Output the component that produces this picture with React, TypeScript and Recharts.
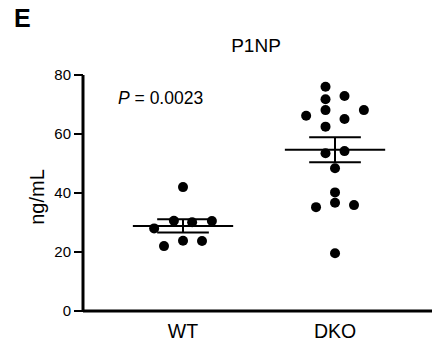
import React from 'react';
import { ComposedChart, Scatter, XAxis, YAxis, ReferenceLine } from 'recharts';

const groups = ['WT', 'DKO'];
const wtValues = [42, 30.6, 30.1, 30.5, 28.0, 22.0, 23.8, 23.7];
const wtJitter = [0, -0.06, 0.06, 0.19, -0.19, -0.125, 0, 0.125];
const dkoValues = [76, 72.9, 71.8, 68.1, 68.1, 66.2, 65.1, 62.5, 53.5, 54.2, 48.4, 40.2, 36.7, 35.2, 35.9, 19.6];
const dkoJitter = [-0.0625, 0.0625, -0.0625, -0.0625, 0.19, -0.19, 0.0625, -0.0625, -0.0625, 0.0625, 0, 0, 0, -0.125, 0.125, 0];
const yTicks = [0, 20, 40, 60, 80];
const title = 'P1NP';
const pValue = '0.0023';

const font = '"Liberation Sans", Arial, sans-serif';

const toPoints = (vals: number[], jit: number[], pos: number) =>
  vals.map((v, i) => ({ x: pos + jit[i], y: v }));

const stats = (vals: number[]) => {
  const n = vals.length;
  const mean = vals.reduce((a, b) => a + b, 0) / n;
  const sd = Math.sqrt(vals.reduce((a, b) => a + (b - mean) ** 2, 0) / (n - 1));
  return { mean, sem: sd / Math.sqrt(n) };
};

const Dot = (props: any) => <circle cx={props.cx} cy={props.cy} r={5} fill="#000" />;

// mean line + SEM whiskers for one group
const MeanSem = (pos: number, vals: number[]) => {
  const { mean, sem } = stats(vals);
  const line = { stroke: '#000', strokeWidth: 2, ifOverflow: 'visible' as const };
  return [
    <ReferenceLine key={`m${pos}`} segment={[{ x: pos - 0.33, y: mean }, { x: pos + 0.33, y: mean }]} {...line} />,
    <ReferenceLine key={`h${pos}`} segment={[{ x: pos - 0.17, y: mean + sem }, { x: pos + 0.17, y: mean + sem }]} {...line} />,
    <ReferenceLine key={`l${pos}`} segment={[{ x: pos - 0.17, y: mean - sem }, { x: pos + 0.17, y: mean - sem }]} {...line} />,
    <ReferenceLine key={`v${pos}`} segment={[{ x: pos, y: mean - sem }, { x: pos, y: mean + sem }]} {...line} />,
  ];
};

export default function App() {
  return (
    <div style={{ position: 'absolute', left: 0, top: 0, width: 434, height: 343, background: '#fff', fontFamily: font }}>
      <div style={{ position: 'absolute', left: 14, top: 4, fontSize: 25, fontWeight: 'bold' }}>E</div>
      <div style={{ position: 'absolute', left: 0, width: 512, top: 35, textAlign: 'center', fontSize: 19 }}>{title}</div>
      <div style={{ position: 'absolute', left: 118, top: 88, fontSize: 17.5, whiteSpace: 'nowrap' }}>
        <i>P</i> = {pValue}
      </div>
      <div
        style={{
          position: 'absolute', left: 37, top: 197, fontSize: 20, whiteSpace: 'nowrap',
          transform: 'translate(-50%, -50%) rotate(-90deg)',
        }}
      >
        ng/mL
      </div>
      <ComposedChart width={434} height={343} margin={{ top: 75, right: 2, bottom: 0, left: 0 }}>
        <XAxis
          type="number"
          dataKey="x"
          domain={[0.342, 2.638]}
          ticks={[1, 2]}
          tickFormatter={(v: number) => groups[v - 1]}
          tickLine={false}
          axisLine={{ stroke: '#000', strokeWidth: 3 }}
          height={32}
          tickSize={6}
          tickMargin={7}
          tick={{ fill: '#000', fontSize: 19.5, fontFamily: font }}
        />
        <YAxis
          type="number"
          dataKey="y"
          domain={[0, 80]}
          ticks={yTicks}
          width={83}
          tickSize={9}
          tickMargin={3}
          axisLine={{ stroke: '#000', strokeWidth: 3 }}
          tickLine={{ stroke: '#000', strokeWidth: 2 }}
          tick={{ fill: '#000', fontSize: 15, fontFamily: font }}
        />
        {MeanSem(1, wtValues)}
        {MeanSem(2, dkoValues)}
        <Scatter data={toPoints(wtValues, wtJitter, 1)} shape={Dot} isAnimationActive={false} />
        <Scatter data={toPoints(dkoValues, dkoJitter, 2)} shape={Dot} isAnimationActive={false} />
      </ComposedChart>
    </div>
  );
}
